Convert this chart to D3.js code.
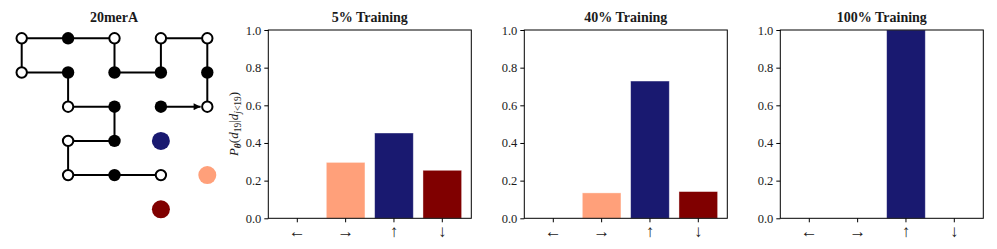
<!DOCTYPE html>
<html>
<head>
<meta charset="utf-8">
<script src="https://cdn.jsdelivr.net/npm/d3@7"></script>
<style>
  body { margin: 0; background: #fff; }
  svg { display: block; }
  text { font-family: "Liberation Serif", "DejaVu Serif", serif; fill: #1a1a1a; }
</style>
</head>
<body>
<svg id="chart" width="997" height="249"></svg>
<script>
// bar chart data
const directions = ['\u2190', '\u2192', '\u2191', '\u2193'];
const barColors = ['#808080', '#FFA07A', '#191970', '#800000'];
const panelTitles = ['5% Training', '40% Training', '100% Training'];
const probs5 = [0.0, 0.297, 0.453, 0.255];
const probs40 = [0.0, 0.135, 0.729, 0.142];
const probs100 = [0.0, 0.0, 1.0, 0.0];
const yTicks = [0, 0.2, 0.4, 0.6, 0.8, 1.0];

// lattice data: 20merA, first 19 monomers (col, row), row 0 at top
const chainCols = [3, 4, 4, 4, 3, 3, 2, 2, 1, 0, 0, 1, 1, 2, 2, 1, 1, 2, 3];
const chainRows = [2, 2, 1, 0, 0, 1, 1, 0, 0, 0, 1, 1, 2, 2, 3, 3, 4, 4, 4];
const sequence = 'HPHPPHHPHPPHPHHPPHP';
// candidate positions of monomer 20 (up, right, down)
const candCols = [3, 4, 3];
const candRows = [3, 4, 5];
const candColors = ['#191970', '#FFA07A', '#800000'];

const svg = d3.select('#chart');

// ---------- lattice ----------
const lx = d3.scaleLinear().domain([0, 4]).range([21.7, 207.3]);
const ly = d3.scaleLinear().domain([0, 5]).range([38.3, 209.3]);

svg.append('text')
  .attr('x', 114).attr('y', 22)
  .attr('text-anchor', 'middle')
  .style('font-size', '14px').style('font-weight', 'bold')
  .text('20merA');

const defs = svg.append('defs');
defs.append('marker')
  .attr('id', 'head')
  .attr('viewBox', '0 0 10 10')
  .attr('refX', 10).attr('refY', 5)
  .attr('markerWidth', 9).attr('markerHeight', 7)
  .attr('markerUnits', 'userSpaceOnUse')
  .attr('orient', 'auto')
  .append('path').attr('d', 'M0,0 L10,5 L0,10 Z').attr('fill', '#000');

const lat = svg.append('g');
const nodeR = 6.2;

for (let i = 1; i < chainCols.length; i++) {
  let x1 = lx(chainCols[i - 1]), y1 = ly(chainRows[i - 1]);
  let x2 = lx(chainCols[i]), y2 = ly(chainRows[i]);
  const line = lat.append('line')
    .attr('x1', x1).attr('y1', y1)
    .attr('stroke', '#000').attr('stroke-width', 2);
  if (i == 1) {
    // first bond drawn as arrow, stops at the circle edge
    line.attr('x2', x2 - nodeR - 0.5).attr('y2', y2)
      .attr('marker-end', 'url(#head)');
  } else {
    line.attr('x2', x2).attr('y2', y2);
  }
}

lat.selectAll('circle.mono')
  .data(d3.range(chainCols.length))
  .enter().append('circle')
  .attr('class', 'mono')
  .attr('cx', i => lx(chainCols[i]))
  .attr('cy', i => ly(chainRows[i]))
  .attr('r', i => sequence[i] == 'H' ? nodeR : nodeR - 1)
  .attr('fill', i => sequence[i] == 'H' ? '#000' : '#fff')
  .attr('stroke', '#000')
  .attr('stroke-width', i => sequence[i] == 'H' ? 0 : 2);

lat.selectAll('circle.cand')
  .data(d3.range(candCols.length))
  .enter().append('circle')
  .attr('class', 'cand')
  .attr('cx', i => lx(candCols[i]))
  .attr('cy', i => ly(candRows[i]))
  .attr('r', 9)
  .attr('fill', i => candColors[i]);

// ---------- bar panels ----------
const panelData = [probs5, probs40, probs100];
const panelLefts = [268.3, 524.3, 780.3];
const panelW = 203;
const axTop = 30, axBottom = 218.3;

const y = d3.scaleLinear().domain([0, 1]).range([axBottom, axTop]);

panelData.forEach((vals, p) => {
  const left = panelLefts[p];
  const x = d3.scaleBand()
    .domain(directions)
    .range([left, left + panelW])
    .paddingInner(0.2)
    .paddingOuter(0.2);

  const g = svg.append('g');

  g.selectAll('rect.bar').data(vals)
    .enter().append('rect')
    .attr('class', 'bar')
    .attr('x', (d, i) => x(directions[i]))
    .attr('y', d => y(d))
    .attr('width', x.bandwidth())
    .attr('height', d => y(0) - y(d))
    .attr('fill', (d, i) => barColors[i])
    .attr('stroke', '#fff').attr('stroke-opacity', 0.5).attr('stroke-width', 0.8);

  const yAxis = d3.axisLeft(y).tickValues(yTicks).tickFormat(d3.format('.1f')).tickSize(4).tickPadding(3);
  const ya = g.append('g').attr('transform', `translate(${left},0)`).call(yAxis);
  ya.select('.domain').remove();
  ya.selectAll('text').style('font-size', '12.5px').style('font-family', '"Liberation Serif", serif');

  const xAxis = d3.axisBottom(x).tickSize(4).tickPadding(3);
  const xa = g.append('g').attr('transform', `translate(0,${axBottom})`).call(xAxis);
  xa.select('.domain').remove();
  xa.selectAll('text').style('font-size', '17px').style('font-family', '"Liberation Serif", serif').style('fill', '#222');

  g.selectAll('.tick line').attr('stroke', '#000').attr('stroke-width', 1);

  g.append('rect')
    .attr('x', left).attr('y', axTop)
    .attr('width', panelW).attr('height', axBottom - axTop)
    .attr('fill', 'none').attr('stroke', '#000').attr('stroke-width', 1);

  g.append('text')
    .attr('x', left + panelW / 2).attr('y', 22)
    .attr('text-anchor', 'middle')
    .style('font-size', '14px').style('font-weight', 'bold')
    .text(panelTitles[p]);
});

// y label on first panel
const lab = svg.append('text')
  .attr('transform', 'translate(238,124) rotate(-90)')
  .attr('text-anchor', 'middle')
  .style('font-size', '13px');
lab.append('tspan').style('font-style', 'italic').text('P');
lab.append('tspan').attr('dy', 3).style('font-size', '9.5px').style('font-weight', 'bold').style('font-style', 'italic').text('\u03b8');
lab.append('tspan').attr('dy', -3).text('(');
lab.append('tspan').style('font-style', 'italic').text('d');
lab.append('tspan').attr('dy', 3).style('font-size', '9.5px').text('19');
lab.append('tspan').attr('dy', -3).text('|');
lab.append('tspan').style('font-style', 'italic').text('d');
lab.append('tspan').attr('dy', 3).style('font-size', '9.5px').style('font-style', 'italic').text('j');
lab.append('tspan').style('font-size', '9.5px').text('<19');
lab.append('tspan').attr('dy', -3).text(')');
</script>
</body>
</html>
